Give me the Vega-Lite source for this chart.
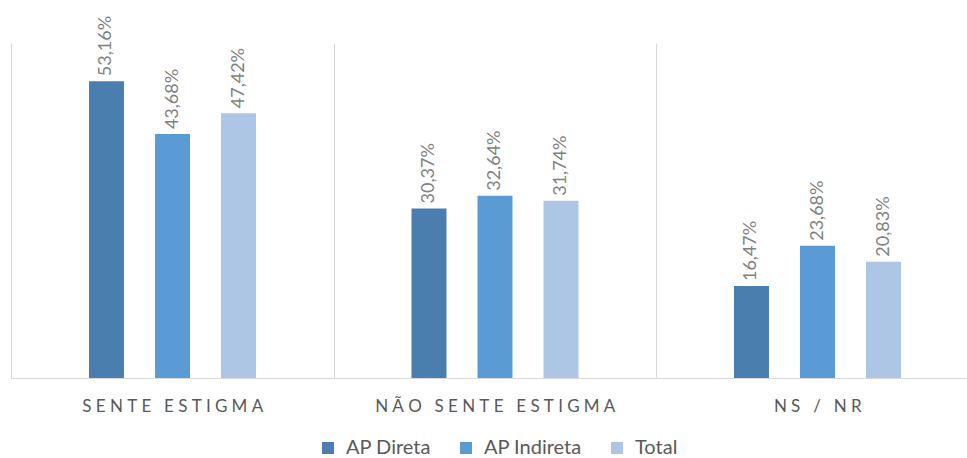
{
  "$schema": "https://vega.github.io/schema/vega-lite/v6.json",
  "autosize": {"type": "none"},
  "width": 956,
  "height": 335,
  "padding": {"left": 11, "top": 43, "right": 0, "bottom": 80},
  "config": {
    "view": {"stroke": null},
    "font": "Lato",
    "locale": {"number": {"decimal": ",", "thousands": ".", "grouping": [3], "currency": ["", " €"]}}
  },
  "data": {
    "values": [
      {"cat": "SENTE ESTIGMA", "serie": "AP Direta", "v": 0.5316},
      {"cat": "SENTE ESTIGMA", "serie": "AP Indireta", "v": 0.4368},
      {"cat": "SENTE ESTIGMA", "serie": "Total", "v": 0.4742},
      {"cat": "NÃO SENTE ESTIGMA", "serie": "AP Direta", "v": 0.3037},
      {"cat": "NÃO SENTE ESTIGMA", "serie": "AP Indireta", "v": 0.3264},
      {"cat": "NÃO SENTE ESTIGMA", "serie": "Total", "v": 0.3174},
      {"cat": "NS / NR", "serie": "AP Direta", "v": 0.1647},
      {"cat": "NS / NR", "serie": "AP Indireta", "v": 0.2368},
      {"cat": "NS / NR", "serie": "Total", "v": 0.2083}
    ]
  },
  "encoding": {
    "x": {
      "field": "cat",
      "type": "nominal",
      "sort": ["SENTE ESTIGMA", "NÃO SENTE ESTIGMA", "NS / NR"],
      "scale": {"range": [0, 967.5], "paddingInner": 0, "paddingOuter": 0},
      "axis": {
        "title": null,
        "ticks": false,
        "grid": true,
        "gridColor": "#d9d9d9",
        "gridWidth": 1,
        "tickBand": "extent",
        "domainColor": "#d9d9d9",
        "domainWidth": 1,
        "labelColor": "#595959",
        "labelFontSize": 17,
        "labelPadding": 20,
        "labelAngle": 0,
        "labelLimit": 0,
        "labelExpr": "join(split(datum.label, ''), '\u2005')"
      }
    },
    "xOffset": {
      "field": "serie",
      "type": "nominal",
      "sort": ["AP Direta", "AP Indireta", "Total"],
      "scale": {"range": [78, 245], "paddingInner": 0.47, "paddingOuter": 0}
    },
    "y": {
      "field": "v",
      "type": "quantitative",
      "scale": {"domain": [0, 0.6]},
      "axis": null
    }
  },
  "layer": [
    {
      "mark": {"type": "bar"},
      "encoding": {
        "color": {
          "field": "serie",
          "type": "nominal",
          "sort": ["AP Direta", "AP Indireta", "Total"],
          "scale": {"domain": ["AP Direta", "AP Indireta", "Total"], "range": ["#4a7eaf", "#5b9bd5", "#adc6e6"]},
          "legend": {
            "orient": "none",
            "legendX": 307,
            "legendY": 395,
            "direction": "horizontal",
            "title": null,
            "symbolType": "square",
            "symbolSize": 144,
            "symbolStrokeWidth": 0,
            "labelFontSize": 20,
            "labelColor": "#595959",
            "columnPadding": 25,
            "labelOffset": 8
          }
        }
      }
    },
    {
      "mark": {"type": "text", "angle": 270, "align": "left", "baseline": "middle", "dx": 5, "fontSize": 18, "color": "#7f7f7f"},
      "encoding": {
        "text": {"field": "v", "type": "quantitative", "format": ".2%"}
      }
    }
  ]
}
